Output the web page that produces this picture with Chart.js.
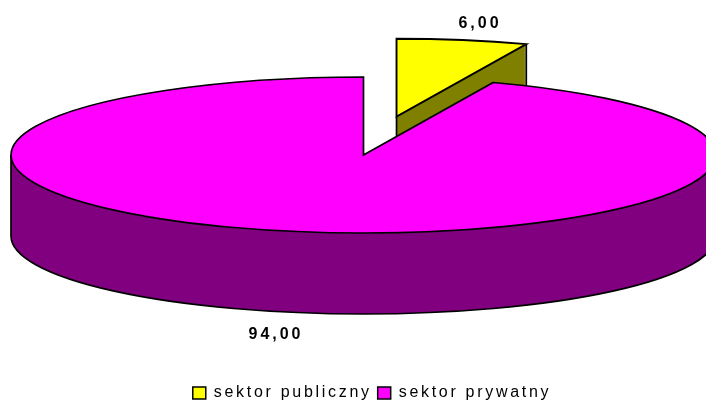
<!DOCTYPE html>
<html><head><meta charset="utf-8">
<style>html,body{margin:0;padding:0;background:#fff}canvas{display:block}</style>
<script src="https://cdn.jsdelivr.net/npm/chart.js@4"></script>
</head><body>
<canvas id="c" width="706" height="401"></canvas>
<script>
const categories = ['sektor publiczny', 'sektor prywatny'];
const values = [6, 94];
const explode = [0.5, 0];
const topColors = ['#FFFF00', '#FF00FF'];
const sideColors = ['#808000', '#800080'];

const CX = 363.5, CY = 155, RX = 352.5, RY = 78, DEPTH = 81;
const labelPos = [[480, 23.5], [276, 334.5]];

function sliceGeom(el, i) {
  const mid = (el.startAngle + el.endAngle) / 2;
  return {
    x: CX + Math.cos(mid) * RX * explode[i],
    y: CY + Math.sin(mid) * RY * explode[i],
    a0: el.startAngle, a1: el.endAngle
  };
}
function slicePath(ctx, g, dy) {
  ctx.beginPath();
  ctx.moveTo(g.x, g.y + dy);
  ctx.ellipse(g.x, g.y + dy, RX, RY, 0, g.a0, g.a1);
  ctx.closePath();
}
const pie3d = {
  id: 'pie3d',
  beforeUpdate(chart) { chart.ctx.letterSpacing = '2.7px'; },
  beforeDatasetDraw(chart, args) {
    const ctx = chart.ctx;
    args.meta.data.forEach((el, i) => {
      const g = sliceGeom(el, i);
      // side wall
      ctx.save();
      ctx.fillStyle = sideColors[i];
      for (let d = DEPTH; d > 0; d--) { slicePath(ctx, g, d); ctx.fill(); }
      ctx.strokeStyle = '#000';
      ctx.lineWidth = 1.7;
      ctx.beginPath();
      const from = Math.max(g.a0, 0), to = Math.min(g.a1, Math.PI);
      if (to > from) ctx.ellipse(g.x, g.y + DEPTH, RX, RY, 0, from, to);
      ctx.stroke();
      if (i === 0) {
        // walls of the pulled-out wedge
        ctx.beginPath();
        ctx.moveTo(g.x, g.y); ctx.lineTo(g.x, g.y + DEPTH);
        const ex = g.x + Math.cos(g.a1) * RX, ey = g.y + Math.sin(g.a1) * RY;
        ctx.moveTo(ex, ey); ctx.lineTo(ex, ey + DEPTH);
        ctx.moveTo(g.x, g.y + DEPTH); ctx.lineTo(ex, ey + DEPTH);
        ctx.stroke();
      } else {
        ctx.beginPath();
        [Math.PI, 0].forEach(a => {
          const x = g.x + Math.cos(a) * RX;
          ctx.moveTo(x, g.y); ctx.lineTo(x, g.y + DEPTH);
        });
        ctx.stroke();
      }
      ctx.restore();
      // top face, drawn by the library's arc element under a tilt transform
      ctx.save();
      ctx.translate(g.x, g.y);
      ctx.scale(RX / el.outerRadius, RY / el.outerRadius);
      ctx.translate(-el.x, -el.y);
      el.draw(ctx);
      ctx.restore();
      // outline
      ctx.save();
      ctx.strokeStyle = '#000';
      ctx.lineWidth = i === 0 ? 1.9 : 1.7;
      ctx.lineJoin = 'miter';
      slicePath(ctx, g, 0);
      ctx.stroke();
      ctx.restore();
    });
    // value labels
    ctx.save();
    ctx.letterSpacing = '3px';
    ctx.font = 'bold 16px "Liberation Sans"';
    ctx.fillStyle = '#000';
    ctx.textAlign = 'center';
    ctx.textBaseline = 'middle';
    values.forEach((v, i) => {
      ctx.fillText(v.toFixed(2).replace('.', ','), labelPos[i][0], labelPos[i][1]);
    });
    ctx.restore();
    return false;
  }
};

new Chart(document.getElementById('c'), {
  type: 'pie',
  plugins: [pie3d],
  data: {
    labels: categories,
    datasets: [{
      data: values,
      backgroundColor: topColors,
      borderWidth: 0,
      radius: RX,
      clip: false
    }]
  },
  options: {
    responsive: false,
    animation: false,
    layout: { padding: { left: 38, right: 0, top: 0, bottom: -10 } },
    events: [],
    plugins: {
      tooltip: { enabled: false },
      legend: {
        position: 'bottom',
        labels: {
          boxWidth: 13,
          boxHeight: 12,
          padding: 6,
          color: '#000',
          font: { family: '"Liberation Sans"', size: 16 },
          generateLabels(chart) {
            return Chart.overrides.pie.plugins.legend.labels.generateLabels(chart)
              .map(l => Object.assign(l, { strokeStyle: '#000', lineWidth: 1.5 }));
          }
        }
      }
    }
  }
});
</script>
</body></html>
